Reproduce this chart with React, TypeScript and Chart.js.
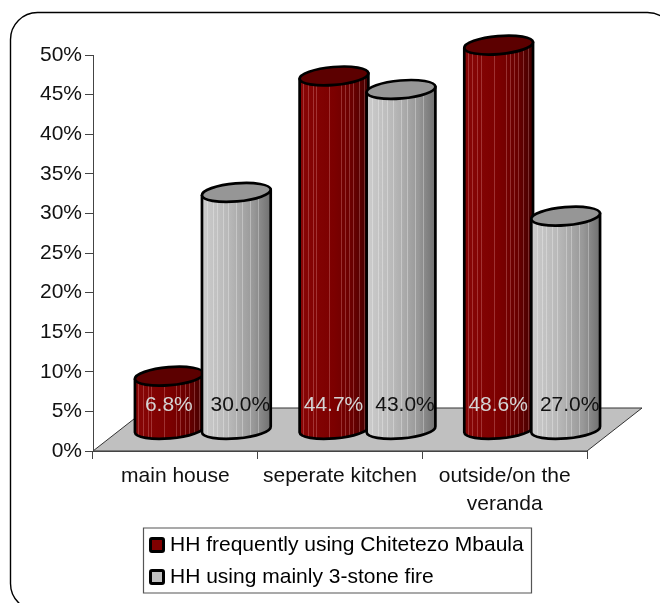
import React, { useEffect, useRef } from "react";
import { Chart, registerables } from "chart.js";

Chart.register(...registerables);

const categories: (string | string[])[] = ["main house", "seperate kitchen", ["outside/on the", "veranda"]];
const mbaulaLabel = "HH frequently using Chitetezo Mbaula";
const fireLabel = "HH using mainly 3-stone fire";
const mbaulaValues = [6.8, 44.7, 48.6];
const fireValues = [30.0, 43.0, 27.0];
const valueTicks = [0, 5, 10, 15, 20, 25, 30, 35, 40, 45, 50];
const seriesColours = ["#800000", "#c0c0c0"];

const FONT = "'Liberation Sans', Arial, sans-serif";
const FONT_SIZE = 21;
const DEPTH_X = 55;
const DEPTH_Y = 43;
const LIFT_Y = 21;
const TILT = -0.085;
const RADIUS_Y = 9;

type Palette = {
  cap: string;
  stops: [number, string][];
  stripes: number[];
  stripe: string;
  text: string;
};

const palettes: Palette[] = [
  {
    cap: "#5c0000",
    stops: [
      [0, "#880606"],
      [0.5, "#7c0000"],
      [0.78, "#680000"],
      [1, "#420000"],
    ],
    stripes: [0.05, 0.12, 0.19, 0.24, 0.43, 0.6, 0.66, 0.72, 0.78, 0.86, 0.93],
    stripe: "rgba(255,190,190,0.26)",
    text: "#d4d4d4",
  },
  {
    cap: "#969696",
    stops: [
      [0, "#cccccc"],
      [0.4, "#b8b8b8"],
      [0.75, "#989898"],
      [1, "#707070"],
    ],
    stripes: [0.08, 0.16, 0.22, 0.3, 0.38, 0.5, 0.58, 0.7, 0.82],
    stripe: "rgba(255,255,255,0.3)",
    text: "#111111",
  },
];

// Value labels sit at a fixed height above the floor, nudged per series.
const labelShift = [-0.5, 4];

function makeSwatch(colour: string): HTMLCanvasElement {
  const swatch = document.createElement("canvas");
  swatch.width = 16;
  swatch.height = 16;
  const ctx = swatch.getContext("2d") as CanvasRenderingContext2D;
  ctx.fillStyle = colour;
  ctx.strokeStyle = "#000000";
  ctx.lineWidth = 3;
  ctx.beginPath();
  ctx.roundRect(1.5, 1.5, 13, 13, 1.5);
  ctx.fill();
  ctx.stroke();
  return swatch;
}

function drawCylinder(ctx: CanvasRenderingContext2D, cx: number, top: number, bottom: number, rx: number, look: Palette) {
  const dx = rx * Math.cos(TILT);
  const dy = rx * Math.sin(TILT);
  const gradient = ctx.createLinearGradient(cx - rx, 0, cx + rx, 0);
  look.stops.forEach(([at, colour]) => gradient.addColorStop(at, colour));

  const outline = () => {
    ctx.beginPath();
    ctx.moveTo(cx - dx, top - dy);
    ctx.lineTo(cx - dx, bottom - dy);
    ctx.ellipse(cx, bottom, rx, RADIUS_Y, TILT, Math.PI, 0, true);
    ctx.lineTo(cx + dx, top + dy);
    ctx.closePath();
  };

  ctx.save();
  outline();
  ctx.fillStyle = gradient;
  ctx.fill();
  ctx.save();
  outline();
  ctx.clip();
  ctx.strokeStyle = look.stripe;
  ctx.lineWidth = 1;
  look.stripes.forEach((at) => {
    const x = Math.round(cx - rx + at * rx * 2) + 0.5;
    ctx.beginPath();
    ctx.moveTo(x, top - RADIUS_Y - 8);
    ctx.lineTo(x, bottom + RADIUS_Y + 8);
    ctx.stroke();
  });
  ctx.restore();
  outline();
  ctx.strokeStyle = "#000000";
  ctx.lineWidth = 2.7;
  ctx.lineJoin = "round";
  ctx.stroke();
  ctx.beginPath();
  ctx.ellipse(cx, top, rx, RADIUS_Y, TILT, 0, Math.PI * 2);
  ctx.fillStyle = look.cap;
  ctx.fill();
  ctx.stroke();
  ctx.restore();
}

const cylinderPlugin = {
  id: "cylinders",
  afterLayout(chart: any) {
    // The legend is a compact box under the plot, not a full-width band.
    const legend = chart.legend;
    legend.left = 143.5;
    legend.right = 531.5;
    legend.width = 388;
  },
  beforeDraw(chart: any) {
    const { ctx, legend, scales } = chart;
    ctx.save();
    ctx.fillStyle = "#ffffff";
    ctx.fillRect(0, 0, chart.width, chart.height);
    ctx.beginPath();
    ctx.roundRect(10.5, 12.5, 664, 598, 27);
    ctx.strokeStyle = "#000000";
    ctx.lineWidth = 1.4;
    ctx.stroke();

    // Floor of the plot, running back from the category axis.
    const x = scales.x;
    const y0 = scales.y.getPixelForValue(0);
    ctx.beginPath();
    ctx.moveTo(x.left, y0);
    ctx.lineTo(x.right, y0);
    ctx.lineTo(x.right + DEPTH_X, y0 - DEPTH_Y);
    ctx.lineTo(x.left + DEPTH_X, y0 - DEPTH_Y);
    ctx.closePath();
    ctx.fillStyle = "#c0c0c0";
    ctx.fill();
    ctx.strokeStyle = "#333333";
    ctx.lineWidth = 1;
    ctx.stroke();

    // Frame round the legend.
    ctx.strokeStyle = "#555555";
    ctx.lineWidth = 1.2;
    ctx.fillStyle = "#ffffff";
    ctx.beginPath();
    ctx.rect(legend.left, legend.top + 4.5, legend.width, legend.height - 9);
    ctx.fill();
    ctx.stroke();
    ctx.restore();
  },
  beforeDatasetDraw() {
    return false;
  },
  afterDatasetsDraw(chart: any) {
    const { ctx } = chart;
    const metas = [chart.getDatasetMeta(0), chart.getDatasetMeta(1)];
    const shiftX = DEPTH_X / 2;
    categories.forEach((_, index) => {
      metas.forEach((meta, series) => {
        const bar = meta.data[index];
        drawCylinder(ctx, bar.x + shiftX, bar.y - LIFT_Y, bar.base - LIFT_Y, 34.5, palettes[series]);
      });
    });
    ctx.save();
    ctx.font = `${FONT_SIZE}px ${FONT}`;
    ctx.textAlign = "center";
    ctx.textBaseline = "middle";
    categories.forEach((_, index) => {
      metas.forEach((meta, series) => {
        const bar = meta.data[index];
        const value = chart.data.datasets[series].data[index] as number;
        ctx.fillStyle = palettes[series].text;
        ctx.fillText(`${value.toFixed(1)}%`, bar.x + shiftX + labelShift[series], bar.base - 45);
      });
    });
    ctx.restore();
  },
};

export default function App() {
  const canvasRef = useRef<HTMLCanvasElement | null>(null);

  useEffect(() => {
    const swatches = seriesColours.map(makeSwatch);
    const chart = new Chart(canvasRef.current as HTMLCanvasElement, {
      type: "bar",
      data: {
        labels: categories as any,
        datasets: [
          { label: mbaulaLabel, data: mbaulaValues, backgroundColor: seriesColours[0], borderColor: "#000000", borderWidth: 3 },
          { label: fireLabel, data: fireValues, backgroundColor: seriesColours[1], borderColor: "#000000", borderWidth: 3 },
        ],
      },
      options: {
        animation: false,
        responsive: false,
        events: [],
        datasets: { bar: { categoryPercentage: 0.814, barPercentage: 1 } },
        layout: { padding: { left: 0, top: 55, right: 73, bottom: 5.5 } },
        plugins: {
          title: { display: false },
          tooltip: { enabled: false },
          legend: {
            display: true,
            position: "bottom",
            align: "start",
            labels: {
              usePointStyle: true,
              pointStyleWidth: 5,
              boxHeight: 13,
              padding: 11,
              color: "#111111",
              font: { family: FONT, size: FONT_SIZE },
              generateLabels: (c: any) =>
                c.data.datasets.map((dataset: any, datasetIndex: number) => ({
                  text: dataset.label,
                  fillStyle: dataset.backgroundColor,
                  strokeStyle: dataset.borderColor,
                  lineWidth: dataset.borderWidth,
                  pointStyle: swatches[datasetIndex],
                  datasetIndex,
                })),
            },
          },
        },
        scales: {
          x: {
            afterFit(scale: any) {
              scale.height = 72.5;
            },
            grid: { drawOnChartArea: false, drawTicks: true, tickLength: 8, color: "#444444" },
            border: { color: "#444444" },
            ticks: { color: "#111111", maxRotation: 0, padding: 3, font: { family: FONT, size: FONT_SIZE, lineHeight: 1.33 } },
          },
          y: {
            min: 0,
            max: 50,
            afterFit(scale: any) {
              scale.width = 93;
            },
            afterBuildTicks(scale: any) {
              scale.ticks = valueTicks.map((value) => ({ value }));
            },
            grid: { drawOnChartArea: false, drawTicks: true, tickLength: 8, color: "#444444" },
            border: { color: "#444444" },
            ticks: {
              color: "#111111",
              padding: 3,
              font: { family: FONT, size: FONT_SIZE },
              callback: (value: any) => `${value}%`,
            },
          },
        },
      },
      plugins: [cylinderPlugin],
    } as any);
    return () => chart.destroy();
  }, []);

  return (
    <canvas
      ref={canvasRef}
      width={660}
      height={603}
      style={{ position: "fixed", left: 0, top: 0, width: 660, height: 603, display: "block" }}
    />
  );
}
